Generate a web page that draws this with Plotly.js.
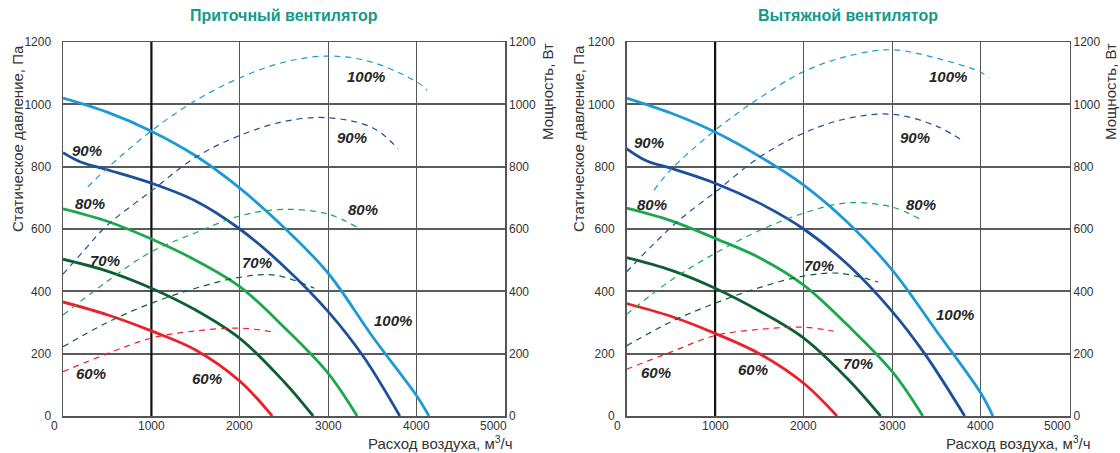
<!DOCTYPE html>
<html><head><meta charset="utf-8">
<script src="https://cdn.plot.ly/plotly-3.0.1.min.js"></script>
<style>html,body{margin:0;padding:0;background:#fff;}#chart{width:1120px;height:453px;}</style>
</head><body><div id="chart"></div>
<script>
// ---------- DATA ----------
const speeds = ['100%','90%','80%','70%','60%'];
const titles = ['Приточный вентилятор','Вытяжной вентилятор'];
const xTickVals = [0,1000,2000,3000,4000,5000];
const yTickVals = [0,200,400,600,800,1000,1200];

// Supply fan (Приточный) – static pressure curves (solid)
const supP_q100 = [0,500,1000,1500,2000,2500,3000,3500,4000,4140];
const supP_p100 = [1020,975,914,835,731,605,458,255,65,0];
const supP_q90  = [0,200,500,1000,1500,2000,2500,3000,3400,3810];
const supP_p90  = [845,815,790,747,690,600,480,335,190,0];
const supP_q80  = [0,500,1000,1500,2000,2500,3000,3327];
const supP_p80  = [665,625,568,500,415,285,137,0];
const supP_q70  = [0,500,1000,1500,2000,2500,2830];
const supP_p70  = [503,465,410,340,249,110,0];
const supP_q60  = [0,500,1000,1500,2000,2367];
const supP_p60  = [366,325,273,212,112,0];
// Supply fan – power curves (dashed)
const supW_q100 = [280,500,1000,1500,2000,2500,3000,3500,4000,4120];
const supW_w100 = [735,795,915,1012,1085,1135,1155,1135,1072,1045];
const supW_q90  = [0,250,500,1000,1500,2000,2500,3000,3500,3790];
const supW_w90  = [455,535,612,722,830,900,945,957,925,858];
const supW_q80  = [0,500,1000,1500,2000,2500,3000,3330];
const supW_w80  = [324,432,527,588,642,663,648,605];
const supW_q70  = [0,500,1000,1500,2000,2400,2843];
const supW_w70  = [222,300,362,410,445,452,410];
const supW_q60  = [0,500,1000,1500,2000,2367];
const supW_w60  = [142,200,250,273,282,270];
// Supply fan – curve labels
const supLbl_text = ['100%','90%','80%','70%','100%','90%','80%','70%','60%','60%'];
const supLbl_q    = [3428,3269,3394,2195,3733,271,305,475,317,1629];
const supLbl_p    = [1088,892,664,494,305,853,683,500,135,119];

// Exhaust fan (Вытяжной) – static pressure curves (solid)
const exhP_q100 = [0,500,1000,1500,2000,2500,3000,3500,4000,4135];
const exhP_p100 = [1020,972,911,833,741,620,468,272,73,0];
const exhP_q90  = [0,230,500,1000,1500,2000,2500,3000,3365,3817];
const exhP_p90  = [858,818,795,747,683,600,485,335,200,0];
const exhP_q80  = [0,500,1000,1500,2000,2500,3000,3344];
const exhP_p80  = [667,627,570,508,420,290,142,0];
const exhP_q70  = [0,500,1000,1500,2000,2500,2868];
const exhP_p70  = [508,468,410,337,250,118,0];
const exhP_q60  = [0,500,1000,1500,2000,2375];
const exhP_p60  = [361,320,265,200,105,0];
// Exhaust fan – power curves (dashed)
const exhW_q100 = [310,500,1000,1500,2000,2500,3000,3500,4000,4090];
const exhW_w100 = [725,790,917,1020,1105,1155,1175,1148,1103,1085];
const exhW_q90  = [0,300,600,1000,1500,2000,2500,3000,3500,3810];
const exhW_w90  = [462,550,630,718,830,908,955,968,930,880];
const exhW_q80  = [0,500,1000,1500,2000,2500,3000,3325];
const exhW_w80  = [326,435,522,595,651,684,670,630];
const exhW_q70  = [0,500,1000,1500,2000,2400,2840];
const exhW_w70  = [225,302,362,412,449,458,430];
const exhW_q60  = [0,500,1000,1500,2000,2340];
const exhW_w60  = [150,205,258,278,285,272];
// Exhaust fan – curve labels
const exhLbl_text = ['100%','90%','80%','70%','100%','90%','80%','70%','60%','60%'];
const exhLbl_q    = [3623,3256,3325,2170,3703,254,290,2613,338,1428];
const exhLbl_p    = [1088,892,680,484,327,876,680,167,138,148];

// ---------- STYLE ----------
const colors = ['#1b9ad6','#1c4f9c','#1aa84c','#0d5f32','#ec2029'];
const W = 1120, H = 453;
const px = x => x / W, py = y => 1 - y / H;
const FONT = 'Liberation Sans, Arial, Helvetica, sans-serif';

const charts = [
  {P:[[supP_q100,supP_p100],[supP_q90,supP_p90],[supP_q80,supP_p80],[supP_q70,supP_p70],[supP_q60,supP_p60]],
   Wt:[[supW_q100,supW_w100],[supW_q90,supW_w90],[supW_q80,supW_w80],[supW_q70,supW_w70],[supW_q60,supW_w60]],
   lbl:[supLbl_text,supLbl_q,supLbl_p], x0:63, x1:505, xa:'x', ya:'y', ya2:'y2',
   leftTitleX:17, rightTitleX:547, xTitleRight:515},
  {P:[[exhP_q100,exhP_p100],[exhP_q90,exhP_p90],[exhP_q80,exhP_p80],[exhP_q70,exhP_p70],[exhP_q60,exhP_p60]],
   Wt:[[exhW_q100,exhW_w100],[exhW_q90,exhW_w90],[exhW_q80,exhW_w80],[exhW_q70,exhW_w70],[exhW_q60,exhW_w60]],
   lbl:[exhLbl_text,exhLbl_q,exhLbl_p], x0:626.5, x1:1069.5, xa:'x2', ya:'y3', ya2:'y4',
   leftTitleX:578, rightTitleX:1110, xTitleRight:1093}
];
const yTop = 42, yBot = 416;

const traces = [], annotations = [], shapes = [];
const layout = {
  width: W, height: H, margin:{l:0,r:0,t:0,b:0},
  paper_bgcolor:'#fff', plot_bgcolor:'#fff', showlegend:false,
  font:{family:FONT, color:'#333', size:12}
};

charts.forEach((c, ci) => {
  const xName = ci === 0 ? 'xaxis' : 'xaxis2';
  const yName = ci === 0 ? 'yaxis' : 'yaxis3';
  const y2Name = ci === 0 ? 'yaxis2' : 'yaxis4';
  layout[xName] = {
    domain:[px(c.x0), px(c.x1)], range:[0,5000], anchor:c.ya,
    tickvals:[1000,2000,3000,4000], showticklabels:false, ticks:'',
    showgrid:true, gridcolor:'#555', gridwidth:1, zeroline:false,
    showline:true, mirror:true, linecolor:'#555', linewidth:1.5, automargin:false, fixedrange:true
  };
  layout[yName] = {
    domain:[py(yBot), py(yTop)], range:[0,1200], anchor:c.xa,
    tickvals:yTickVals, ticks:'', ticklabelstandoff:8,
    tickfont:{family:FONT, size:12, color:'#333'},
    showgrid:true, gridcolor:'#5a5a5a', gridwidth:2, zeroline:false,
    showline:true, mirror:true, linecolor:'#555', linewidth:1.5, automargin:false, fixedrange:true
  };
  layout[y2Name] = {
    overlaying:c.ya, side:'right', anchor:c.xa, range:[0,1200],
    tickvals:yTickVals, ticks:'', ticklabelstandoff:3,
    tickfont:{family:FONT, size:12, color:'#333'},
    showgrid:false, zeroline:false, showline:false, automargin:false, fixedrange:true
  };
  // thick 1000 line
  shapes.push({type:'line', xref:c.xa, yref:c.ya, x0:1000, x1:1000, y0:0, y1:1200,
               line:{color:'#111', width:2.2}, layer:'between'});
  // power (dashed) curves
  c.Wt.forEach((d, i) => traces.push({
    type:'scatter', mode:'lines', x:d[0], y:d[1], xaxis:c.xa, yaxis:c.ya2,
    line:{color:colors[i], width:1.2, dash:'6px,5px', shape:'spline', smoothing:1},
    hoverinfo:'skip', name:'W '+speeds[i]
  }));
  // pressure (solid) curves
  c.P.forEach((d, i) => traces.push({
    type:'scatter', mode:'lines', x:d[0], y:d[1], xaxis:c.xa, yaxis:c.ya,
    line:{color:colors[i], width:2.8, shape:'spline', smoothing:1},
    hoverinfo:'skip', name:'P '+speeds[i]
  }));
  // curve labels
  c.lbl[0].forEach((t, i) => annotations.push({
    xref:c.xa, yref:c.ya, x:c.lbl[1][i], y:c.lbl[2][i], text:'<b><i>'+t+'</i></b>',
    showarrow:false, xanchor:'center', yanchor:'middle',
    font:{family:FONT, size:15, color:'#262626'}
  }));
  // x tick labels
  xTickVals.forEach((v, i) => annotations.push({
    xref:c.xa, yref:'paper', x:v, y:py(426), text:String(v), showarrow:false,
    xanchor:'center', yanchor:'middle',
    xshift: i === 0 ? -9 : (i === xTickVals.length-1 ? -12 : 0),
    font:{family:FONT, size:12, color:'#333'}
  }));
  // chart title
  annotations.push({xref:'paper', yref:'paper', x:px((c.x0+c.x1)/2), y:py(16),
    text:'<b>'+titles[ci]+'</b>', showarrow:false, xanchor:'center', yanchor:'middle',
    font:{family:FONT, size:16, color:'#15998a'}});
  // axis titles
  annotations.push({xref:'paper', yref:'paper', x:px(c.leftTitleX), y:py(139),
    text:'Статическое давление, Па', textangle:-90, showarrow:false,
    xanchor:'center', yanchor:'middle', font:{family:FONT, size:15, color:'#333'}});
  annotations.push({xref:'paper', yref:'paper', x:px(c.rightTitleX), y:py(92),
    text:'Мощность, Вт', textangle:-90, showarrow:false,
    xanchor:'center', yanchor:'middle', font:{family:FONT, size:15, color:'#333'}});
  annotations.push({xref:'paper', yref:'paper', x:px(c.xTitleRight), y:py(442),
    text:'Расход воздуха, м<sup>3</sup>/ч', showarrow:false,
    xanchor:'right', yanchor:'middle', font:{family:FONT, size:15, color:'#333'}});
});

layout.annotations = annotations;
layout.shapes = shapes;
Plotly.newPlot('chart', traces, layout, {staticPlot:true, displayModeBar:false});
</script>
</body></html>
